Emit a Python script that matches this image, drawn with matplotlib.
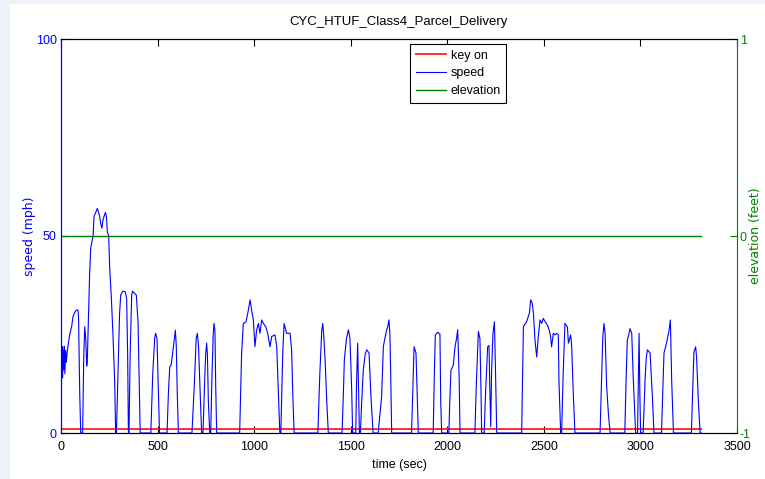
import matplotlib.pyplot as plt
from matplotlib.patches import Rectangle

plt.rcParams['font.family'] = ['Liberation Sans', 'DejaVu Sans']
plt.rcParams['axes.unicode_minus'] = False

title = "CYC_HTUF_Class4_Parcel_Delivery"

# speed trace, one trip per line (time s, speed mph)
time_s = [0, 3, 5, 8, 11, 14, 17, 20, 24, 28, 31, 36, 45, 55, 62, 70, 79, 88, 91, 97, 102,
          112, 118, 123, 128, 133, 136, 140, 148, 154, 166, 171, 180, 188, 195, 200, 206, 212, 217, 223, 230, 235, 240, 247, 252, 261, 269, 278, 283,
          287, 295, 303, 309, 320, 333, 340, 345, 349,
          352, 358, 366, 370, 380, 390, 399, 404, 410,
          465, 475, 485, 490, 497, 502, 510,
          549, 556, 563, 570, 580, 587, 592, 597, 602, 608,
          678, 690, 700, 706, 712, 720, 728,
          735, 743, 749, 754, 758, 763, 770,
          775, 782, 788, 792, 797, 801, 806,
          925, 935, 944, 958, 970, 979, 987, 996, 1004, 1013, 1022, 1030, 1039, 1048, 1060, 1070, 1082, 1091, 1108, 1117, 1125, 1133,
          1138, 1148, 1155, 1168, 1186, 1194, 1200, 1207,
          1330, 1340, 1350, 1355, 1360, 1367, 1376, 1384,
          1455, 1462, 1467, 1478, 1488, 1496, 1505, 1510,
          1526, 1530, 1536, 1540, 1545,
          1550, 1557, 1565, 1575, 1583, 1595, 1605, 1616,
          1642, 1652, 1660, 1669, 1686, 1692, 1698, 1703, 1707, 1712,
          1815, 1822, 1828, 1838, 1844, 1850,
          1927, 1933, 1938, 1950, 1962, 1966, 1971,
          2008, 2013, 2019, 2031, 2040, 2048, 2054, 2061, 2066,
          2143, 2150, 2161, 2169, 2174, 2178,
          2191, 2198, 2209, 2216, 2220, 2225, 2229, 2236, 2244, 2250, 2256,
          2385, 2394, 2411, 2425, 2432, 2440, 2446, 2454, 2463, 2471, 2480, 2489, 2497, 2506, 2518, 2528, 2535, 2540, 2549, 2558, 2566, 2575, 2578, 2587,
          2592, 2600, 2609, 2622, 2627, 2639, 2644, 2653, 2661,
          2791, 2805, 2811, 2817, 2825, 2834, 2843,
          2919, 2925, 2932, 2940, 2946, 2955, 2962, 2967, 2975,
          2985, 2993, 2997, 3001,
          3014, 3020, 3024, 3030, 3036, 3050, 3056, 3062, 3070,
          3109, 3115, 3122, 3136, 3148, 3155, 3158, 3162, 3171,
          3264, 3270, 3277, 3286, 3291, 3300, 3309,
          3316]
speed_mph = [0, 15, 22, 14, 21, 16, 22, 15, 21, 18, 20, 22, 25, 27, 29.5, 30.5, 31.2, 31.2, 29, 10, 0,
             0, 20, 27, 24, 17, 18, 25, 40, 47, 50, 55, 56, 57, 56, 55, 53, 52, 54, 55, 56, 55, 51, 50, 42, 34, 25, 13, 0,
             0, 15, 30, 35, 36, 35.8, 34, 20, 0,
             0, 20, 35, 36, 35.5, 35, 28, 15, 0,
             0, 15, 24, 25.3, 24, 15, 0,
             0, 10, 16.8, 17.2, 21, 24, 26.1, 22, 10, 0,
             0, 12, 24, 25.3, 22, 11, 0,
             0, 12, 20, 22.8, 20, 8, 0,
             0, 15, 25, 27.8, 26, 12, 0,
             0, 20, 27.8, 28.2, 31.2, 33.8, 31.2, 28.7, 21.9, 26.2, 27.8, 25.3, 28.7, 27.8, 27, 25.3, 21.9, 24.5, 24.9, 21.9, 10.9, 0,
             0, 20, 27.8, 25.3, 25.3, 21.1, 10, 0,
             0, 15, 26, 27.8, 25, 19, 8, 0,
             0, 10, 18.5, 24, 26.2, 24, 11, 0,
             0, 12, 22.8, 12, 0,
             0, 8, 16, 20, 21.1, 20.3, 9, 0,
             0, 5, 9.2, 22, 26.2, 27, 28.7, 25, 15, 0,
             0, 12, 21.9, 20.3, 10, 0,
             0, 15, 24.8, 25.6, 25.1, 8, 0,
             0, 8, 15.9, 17.2, 21.9, 24, 26.2, 15, 0,
             0, 12, 25.8, 24, 12, 0,
             0, 10, 21.9, 22.2, 12, 1.6, 15, 25, 28.2, 15, 0,
             0, 27, 28.3, 30.4, 33.8, 32.9, 30.4, 23.6, 19.3, 24.4, 28.7, 27.8, 29.1, 28.3, 27.4, 26.1, 24.4, 21.9, 25.3, 24.9, 25.3, 24.9, 13.5, 0,
             0, 15, 27.8, 26.9, 22.8, 24.9, 22, 9.2, 0,
             0, 24.4, 27.8, 25.3, 12, 5, 0,
             0, 12, 23.6, 25, 26.5, 25.3, 15, 9.2, 0,
             0, 25.3, 10, 0,
             0, 8, 13.5, 19, 21.1, 20.3, 15, 9.2, 0,
             0, 9, 20.3, 23, 26, 28.7, 22, 13, 0,
             0, 10, 20.5, 21.9, 19, 8, 0,
             0]

key_on_t = [0, 3316]
key_on = [1, 1]
elev_t = [0, 3316]
elevation = [0, 0]

fig = plt.figure(figsize=(7.65, 4.79), dpi=100)
fig.patch.set_facecolor('#edf2fa')
fig.patches.append(Rectangle((10 / 765, 0), 1, 1 - 4 / 479, transform=fig.transFigure,
                             facecolor='white', edgecolor='none', zorder=-1))

ax = fig.add_axes([61 / 765, 46 / 479, 676 / 765, 394 / 479])
ax2 = ax.twinx()

l1, = ax.plot(key_on_t, key_on, color='#ff3030', lw=1.4, label='key on')
l2, = ax.plot(time_s, speed_mph, color='#0000ff', lw=0.8, label='speed')
l3, = ax2.plot(elev_t, elevation, color='#008000', lw=1.0, label='elevation')

ax.set_xlim(0, 3500)
ax.set_ylim(0, 100)
ax.set_yticks([0, 50, 100])
ax2.set_ylim(-1, 1)
ax2.set_yticks([-1, 0, 1])
ax.set_xticks(range(0, 3501, 500))

ax.tick_params(axis='x', direction='in', top=True, length=5, labelsize=9, pad=6, color='black')
ax.tick_params(axis='y', direction='in', length=5, labelsize=9, colors='#0000ff', pad=3)
ax2.tick_params(axis='y', direction='in', length=5, labelsize=9, colors='#008000', pad=2)
ax.spines['left'].set_color('#0000ff')
ax2.spines['left'].set_color('#0000ff')
ax2.spines['right'].set_color('#008000')
ax.spines['right'].set_visible(False)
for sp in ['top', 'bottom']:
    ax.spines[sp].set_color('black')
    ax2.spines[sp].set_color('black')

ax.set_title(title, fontsize=9.5, pad=10)
ax.set_xlabel('time (sec)', fontsize=9, labelpad=4)
ax.set_ylabel('speed (mph)', fontsize=9, color='#0000ff', family='DejaVu Sans')
ax2.set_ylabel('elevation (feet)', fontsize=9, color='#008000', family='DejaVu Sans',
               rotation=90, va='center')
ax.yaxis.set_label_coords((36 - 61) / 676, 0.5)
ax2.yaxis.set_label_coords((756 - 61) / 676, 0.5)

leg = ax2.legend([l1, l2, l3], ['key on', 'speed', 'elevation'], loc='upper left',
                 bbox_to_anchor=((410 - 61) / 676, (433 - 44) / 394), fancybox=False,
                 edgecolor='black', framealpha=1, fontsize=9, borderaxespad=0,
                 handlelength=2.4, handletextpad=0.4, labelspacing=0.45, borderpad=0.45)
leg.get_frame().set_linewidth(0.8)

fig.savefig('out.png', dpi=100, facecolor=fig.get_facecolor())
